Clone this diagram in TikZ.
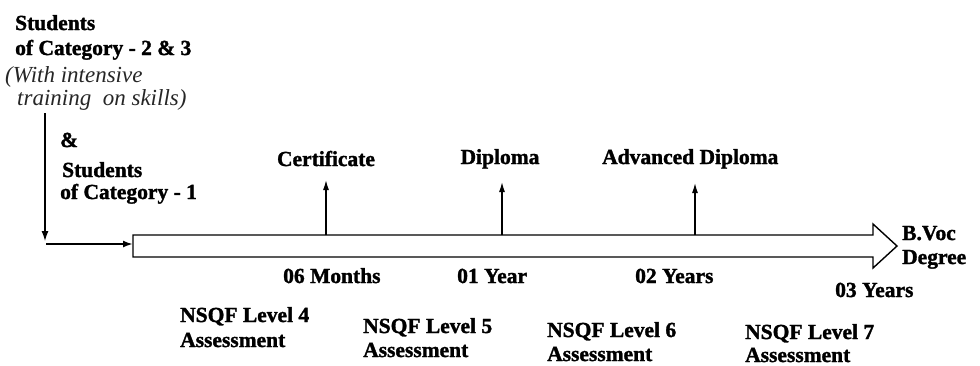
\documentclass[tikz,border=0pt]{standalone}
\usepackage{fontspec}
\setmainfont{Liberation Serif}[BoldFeatures={FakeBold=1.5}]
\usetikzlibrary{arrows.meta}
\begin{document}
\begin{tikzpicture}[x=1pt,y=-1pt,
  lbl/.style={font=\fontsize{21.5}{24}\selectfont\bfseries, inner sep=0pt, anchor=base west},
  ital/.style={font=\fontsize{23}{26}\selectfont\itshape, text=black!85, inner sep=0pt, anchor=base west},
  uparrow/.style={-{Latex[length=10pt,width=6pt]}, line width=1.3pt},
  feed/.style={-{Latex[length=10pt,width=7pt]}, line width=1.3pt},
  barline/.style={line width=1.4pt, line join=miter}]
\useasboundingbox (0,0) rectangle (980,365);
% left texts
\node[lbl] (s1) at (15,30) {Students};
\node[lbl] (s2) at (15,55) {of Category - 2 \& 3};
\node[ital] (s3) at (5,82) {(With intensive};
\node[ital] (s4) at (17,105) {training \ on skills)};
\node[lbl] (amp) at (60,147) {\&};
\node[lbl] (s5) at (62,177) {Students};
\node[lbl] (s6) at (60,199) {of Category - 1};
% big arrow
\coordinate (a1) at (133,235);
\coordinate (a2) at (873,235);
\coordinate (a3) at (873,224);
\coordinate (tip) at (897,246);
\coordinate (a4) at (873,268);
\coordinate (a5) at (873,257);
\coordinate (a6) at (133,257);
\draw[barline] (a1) -- (a2) -- (a3) -- (tip) -- (a4) -- (a5) -- (a6) -- cycle;
% feed arrows
\coordinate (v0) at (45,113);
\coordinate (v1) at (45,241);
\draw[feed] (v0) -- (v1);
\coordinate (h0) at (46,244);
\coordinate (h1) at (133,244);
\draw[feed, line width=2pt] (h0) -- (h1);
% vertical arrows
\coordinate (c1b) at (326,235); \coordinate (c1t) at (326,180);
\coordinate (c2b) at (502,235); \coordinate (c2t) at (502,182);
\coordinate (c3b) at (695,235); \coordinate (c3t) at (695,183);
\draw[uparrow] (c1b) -- (c1t);
\draw[uparrow] (c2b) -- (c2t);
\draw[uparrow] (c3b) -- (c3t);
% top labels
\node[lbl, anchor=base] (cert) at (326,166) {Certificate};
\node[lbl, anchor=base] (dip) at (500,164) {Diploma};
\node[lbl] (adv) at (602,164) {Advanced Diploma};
\node[lbl] (bv1) at (902,240) {B.Voc};
\node[lbl] (bv2) at (902,264) {Degree};
% time labels
\node[lbl] (t1) at (283,283) {06 Months};
\node[lbl] (t2) at (457,283) {01 Year};
\node[lbl] (t3) at (635,283) {02 Years};
\node[lbl] (t4) at (835,297) {03 Years};
% NSQF
\node[lbl] (n4) at (180,322) {NSQF Level 4};
\node[lbl] (n4b) at (180,347) {Assessment};
\node[lbl] (n5) at (363,333) {NSQF Level 5};
\node[lbl] (n5b) at (363,357) {Assessment};
\node[lbl] (n6) at (547,337) {NSQF Level 6};
\node[lbl] (n6b) at (547,361) {Assessment};
\node[lbl] (n7) at (745,339) {NSQF Level 7};
\node[lbl] (n7b) at (745,362) {Assessment};
\end{tikzpicture}
\end{document}
